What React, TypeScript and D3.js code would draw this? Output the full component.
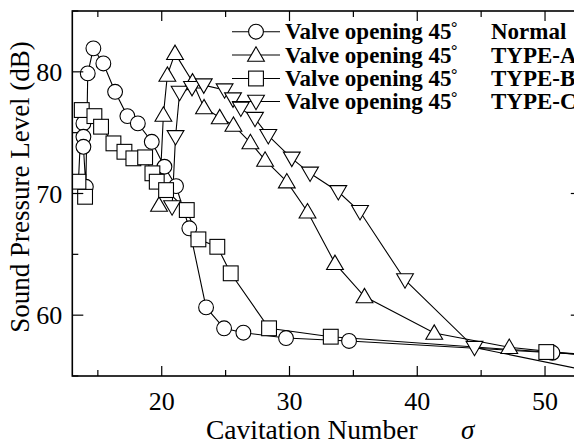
import React from "react";
import * as d3 from "d3";

// Cavitation number sigma vs Sound Pressure Level (dB)
const normalSigma = [13.87, 13.87, 13.87, 14.06, 14.21, 14.65, 15.43, 16.35, 17.31, 18.13, 19.22, 20.21, 21.12, 22.16, 23.47, 24.88, 26.39, 29.73, 34.66, 50.58, 54.0];
const normalDb = [75.76, 74.66, 73.84, 70.55, 79.87, 81.93, 80.69, 78.36, 76.36, 75.76, 74.25, 72.2, 70.61, 67.14, 60.64, 58.92, 58.56, 58.12, 57.88, 56.91, 56.7];

const typeASigma = [19.79, 20.13, 20.44, 21.04, 22.41, 23.31, 24.54, 25.61, 26.94, 28.09, 29.79, 31.41, 33.56, 35.87, 41.33, 47.2, 54.0];
const typeADb = [69.05, 76.45, 79.73, 81.52, 79.18, 77.06, 76.24, 75.62, 74.19, 72.75, 70.97, 68.5, 64.26, 61.53, 58.53, 57.36, 56.6];

const typeBSigma = [14.0, 13.48, 13.74, 14.73, 15.25, 16.22, 17.08, 17.78, 18.7, 19.27, 19.61, 20.34, 21.96, 22.87, 24.35, 25.4, 28.4, 33.23, 50.1, 54.0];
const typeBDb = [69.73, 70.97, 76.86, 76.36, 75.49, 74.12, 73.43, 72.89, 72.97, 71.66, 70.97, 70.28, 68.64, 66.23, 65.62, 63.44, 58.92, 58.23, 56.97, 56.75];

const typeCSigma = [20.81, 21.08, 21.4, 22.37, 23.29, 24.92, 25.58, 26.19, 27.3, 28.34, 30.18, 31.61, 33.82, 35.52, 39.04, 44.48, 54.0];
const typeCDb = [68.89, 74.66, 78.3, 78.7, 78.91, 78.5, 77.76, 77.0, 76.16, 74.75, 72.89, 71.66, 70.14, 68.5, 62.89, 57.34, 55.3];

const seriesNames = ["Normal", "TYPE-A", "TYPE-B", "TYPE-C"];
const legendPrefix = "Valve opening 45";

const xMajorTicks = [20, 30, 40, 50];
const xMinorTicks = [15, 25, 35, 45];
const yMajorTicks = [60, 70, 80];
const yMinorTicks = [55, 65, 75, 85];

const xDomain = [13.0, 52.8];
const yDomain = [55, 85];

type Shape = "circle" | "up" | "square" | "down";

function Marker({ shape, cx, cy }: { shape: Shape; cx: number; cy: number }) {
  const st = { fill: "#fff", stroke: "#000", strokeWidth: 1.1 };
  if (shape === "circle") return <circle cx={cx} cy={cy} r={7.4} {...st} />;
  if (shape === "square") return <rect x={cx - 7.4} y={cy - 7.4} width={14.8} height={14.8} {...st} />;
  const s = 8.4;
  const h = 7.2;
  if (shape === "up") {
    const pts = [[cx, cy - h - 1], [cx - s, cy + h - 1], [cx + s, cy + h - 1]];
    return <polygon points={pts.map((p) => p.join(",")).join(" ")} {...st} />;
  }
  const pts = [[cx - s, cy - h + 1], [cx + s, cy - h + 1], [cx, cy + h + 1]];
  return <polygon points={pts.map((p) => p.join(",")).join(" ")} {...st} />;
}

export default function App() {
  const W = 574;
  const H = 445;
  const x = d3.scaleLinear().domain(xDomain).range([72.3, 580.8]);
  const y = d3.scaleLinear().domain(yDomain).range([376, 11]);
  const left = x(xDomain[0]);
  const right = x(xDomain[1]);
  const top = y(yDomain[1]);
  const bottom = y(yDomain[0]);

  const series: { sig: number[]; db: number[]; shape: Shape }[] = [
    { sig: normalSigma, db: normalDb, shape: "circle" },
    { sig: typeASigma, db: typeADb, shape: "up" },
    { sig: typeBSigma, db: typeBDb, shape: "square" },
    { sig: typeCSigma, db: typeCDb, shape: "down" },
  ];

  const line = d3
    .line<[number, number]>()
    .x((d) => x(d[0]))
    .y((d) => y(d[1]));

  const font = "'Liberation Serif', 'Times New Roman', serif";
  const legendRows = [31.7, 55, 78.5, 101.5];

  return (
    <svg width={W} height={H} style={{ position: "absolute", left: 0, top: 0, background: "#fff" }}>
      <defs>
        <clipPath id="plotClip">
          <rect x={left} y={top} width={right - left} height={bottom - top} />
        </clipPath>
      </defs>
      <rect x={0} y={0} width={W} height={H} fill="#fff" />

      {/* data */}
      <g clipPath="url(#plotClip)">
        {series.map((s, i) => {
          const pts = s.sig.map((v, j) => [v, s.db[j]] as [number, number]);
          return <path key={"l" + i} d={line(pts) || ""} fill="none" stroke="#000" strokeWidth={1.1} />;
        })}
        {series.map((s, i) =>
          s.sig.map((v, j) => <Marker key={"m" + i + "-" + j} shape={s.shape} cx={x(v)} cy={y(s.db[j])} />)
        )}
      </g>

      {/* frame */}
      <rect x={left} y={top} width={right - left} height={bottom - top} fill="none" stroke="#000" strokeWidth={1.6} />

      {/* x ticks */}
      {xMajorTicks.map((t) => (
        <g key={"xM" + t}>
          <line x1={x(t)} x2={x(t)} y1={bottom} y2={bottom - 10} stroke="#000" strokeWidth={1.2} />
          <line x1={x(t)} x2={x(t)} y1={top} y2={top + 10} stroke="#000" strokeWidth={1.2} />
          <text x={x(t)} y={bottom + 34} textAnchor="middle" fontFamily={font} fontSize={26}>
            {t}
          </text>
        </g>
      ))}
      {xMinorTicks.map((t) => (
        <g key={"xm" + t}>
          <line x1={x(t)} x2={x(t)} y1={bottom} y2={bottom - 6} stroke="#000" strokeWidth={1.2} />
          <line x1={x(t)} x2={x(t)} y1={top} y2={top + 6} stroke="#000" strokeWidth={1.2} />
        </g>
      ))}

      {/* y ticks */}
      {yMajorTicks.map((t) => (
        <g key={"yM" + t}>
          <line x1={left} x2={left + 11} y1={y(t)} y2={y(t)} stroke="#000" strokeWidth={1.2} />
          <line x1={right} x2={right - 10} y1={y(t)} y2={y(t)} stroke="#000" strokeWidth={1.2} />
          <text x={left - 10} y={y(t) + 9} textAnchor="end" fontFamily={font} fontSize={26}>
            {t}
          </text>
        </g>
      ))}
      {yMinorTicks.map((t) => (
        <g key={"ym" + t}>
          <line x1={left} x2={left + 6} y1={y(t)} y2={y(t)} stroke="#000" strokeWidth={1.2} />
          <line x1={right} x2={right - 6} y1={y(t)} y2={y(t)} stroke="#000" strokeWidth={1.2} />
        </g>
      ))}

      {/* axis titles */}
      <text x={206} y={439} fontFamily={font} fontSize={27.5}>
        Cavitation Number
      </text>
      <text x={461} y={439} fontFamily={font} fontSize={27} fontStyle="italic">
        σ
      </text>
      <text
        transform={`translate(29, ${187}) rotate(-90)`}
        textAnchor="middle"
        fontFamily={font}
        fontSize={27}
      >
        Sound Pressure Level  (dB)
      </text>

      {/* legend */}
      {seriesNames.map((name, i) => {
        const cy = legendRows[i];
        const shape = series[i].shape;
        return (
          <g key={"lg" + i}>
            <line x1={232} x2={280} y1={cy} y2={cy} stroke="#000" strokeWidth={1.1} />
            <Marker shape={shape} cx={256} cy={cy} />
            <text x={285} y={cy + 7.5} fontFamily={font} fontSize={23} fontWeight="bold">
              {legendPrefix}
            </text>
            <text x={451} y={cy + 1} fontFamily={font} fontSize={16} fontWeight="bold">
              °
            </text>
            <text x={491} y={cy + 7.5} fontFamily={font} fontSize={23} fontWeight="bold">
              {name}
            </text>
          </g>
        );
      })}
    </svg>
  );
}
